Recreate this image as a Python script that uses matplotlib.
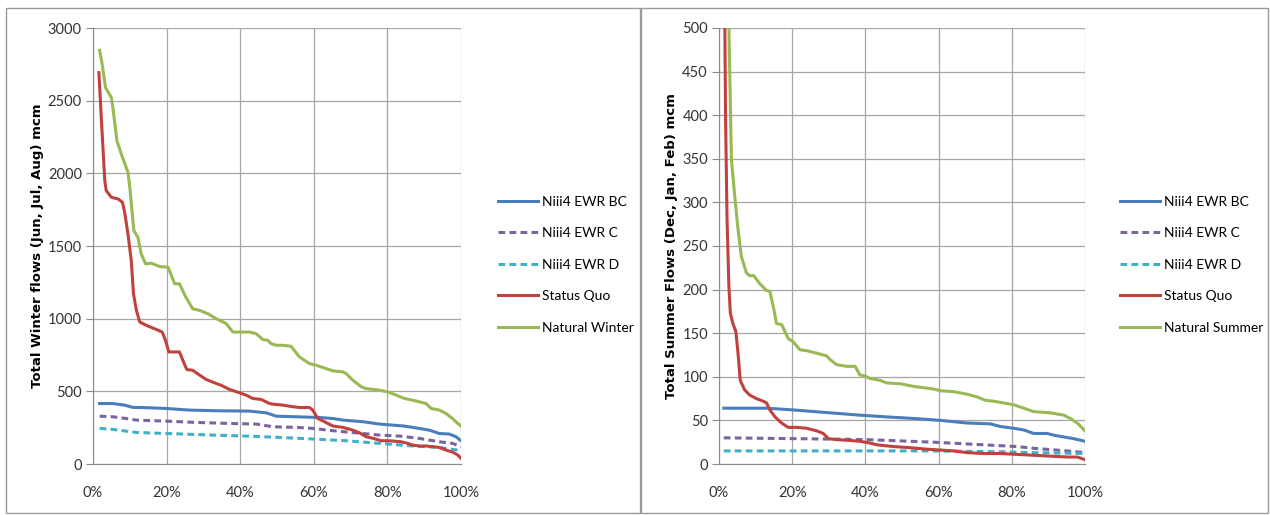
import matplotlib.pyplot as plt
from matplotlib.patches import Rectangle
from matplotlib.ticker import PercentFormatter

# ---- winter (left panel) ----
w_nat_x = [1.8, 2.5, 3.4, 5.0, 5.4, 6.5, 7.7, 9.5, 10.0, 11.1, 12.2, 13.1, 14.3, 15.8, 18.1,
           20.4, 22.2, 23.5, 25.2, 27.1, 29.0, 31.2, 33.5, 36.2, 38.0, 39.8, 42.5, 44.3, 46.2,
           47.5, 48.4, 49.8, 51.6, 53.8, 56.1, 58.8, 60.6, 63.3, 65.2, 67.9, 68.8, 70.6, 72.9,
           74.2, 77.8, 80.1, 82.4, 84.6, 86.9, 90.5, 91.9, 94.1, 95.9, 97.7, 99.1, 100.0]
w_nat_y = [2846, 2750, 2590, 2521, 2453, 2224, 2132, 2007, 1904, 1606, 1560, 1446, 1377, 1382, 1359,
           1354, 1240, 1240, 1149, 1068, 1057, 1034, 1000, 966, 908, 908, 908, 897, 856,
           851, 828, 817, 817, 810, 737, 691, 680, 657, 641, 634, 622, 577, 531,
           519, 508, 496, 474, 451, 439, 416, 382, 371, 348, 313, 279, 261]

w_sq_x = [1.6, 2.3, 3.2, 3.6, 5.0, 6.8, 8.0, 8.6, 9.5, 10.4, 11.0, 11.8, 12.7, 14.5, 16.7, 18.8,
          19.7, 20.6, 22.6, 23.5, 24.6, 25.5, 27.1, 29.0, 30.8, 33.5, 34.8, 37.1, 39.8, 41.6,
          43.4, 45.7, 48.0, 48.9, 51.6, 54.3, 56.1, 58.8, 59.7, 61.1, 62.9, 65.2, 67.9, 70.6,
          72.4, 74.2, 76.5, 78.3, 80.5, 83.7, 85.5, 86.9, 88.7, 90.5, 92.3, 94.1, 95.9, 97.7,
          99.1, 100.0]
w_sq_y = [2693, 2361, 1949, 1881, 1835, 1824, 1801, 1732, 1583, 1400, 1171, 1057, 977, 954, 931, 908,
          851, 771, 771, 771, 702, 650, 645, 611, 581, 554, 542, 513, 490, 474,
          451, 444, 416, 412, 405, 394, 389, 389, 371, 313, 291, 261, 252, 233,
          215, 188, 174, 160, 160, 153, 142, 130, 124, 124, 119, 114, 96, 82,
          62, 39]

w_bc_x = [1.8, 5.4, 8.6, 10.9, 13.1, 19.9, 26.2, 34.4, 42.5, 47.1, 49.8, 55.2, 61.5, 65.2, 67.9,
          73.3, 77.8, 84.6, 86.9, 91.4, 94.1, 96.8, 98.6, 100.0]
w_bc_y = [416, 416, 405, 389, 389, 382, 371, 366, 364, 352, 329, 325, 320, 313, 302,
          291, 275, 261, 252, 233, 210, 206, 188, 160]

w_c_x = [1.8, 5.4, 9.0, 11.8, 19.9, 28.1, 37.1, 44.3, 48.9, 55.2, 59.7, 65.2, 73.3, 77.8, 83.3,
         88.7, 94.1, 97.7, 100.0]
w_c_y = [329, 325, 313, 302, 295, 286, 279, 275, 256, 252, 245, 229, 210, 199, 192,
         176, 153, 142, 119]

w_d_x = [1.8, 5.4, 11.8, 19.9, 32.6, 41.6, 50.7, 59.7, 68.8, 77.8, 86.9, 94.1, 100.0]
w_d_y = [245, 238, 217, 210, 199, 192, 183, 172, 160, 142, 124, 114, 92]

# ---- summer (right panel) ----
s_nat_x = [1.4, 2.7, 3.4, 4.3, 5.2, 6.1, 7.5, 8.4, 9.5, 11.1, 13.0, 13.9, 15.0, 15.7, 17.1, 18.9,
           20.3, 22.1, 23.9, 25.8, 27.6, 29.4, 30.3, 32.1, 34.9, 37.2, 38.5, 39.9, 41.3, 44.0,
           45.8, 49.5, 53.2, 56.8, 58.6, 60.5, 64.1, 67.8, 70.5, 72.8, 75.1, 77.8, 80.5, 83.3,
           86.0, 89.7, 91.5, 94.2, 96.1, 97.9, 99.3, 100.0]
s_nat_y = [900, 500, 349, 307, 269, 238, 219, 216, 216, 207, 199, 198, 177, 161, 160, 144,
           140, 131, 130, 128, 126, 124, 120, 114, 112, 112, 102, 101, 98, 96,
           93, 92, 89, 87, 86, 84, 83, 80, 77, 73, 72, 70, 68, 64,
           60, 59, 58, 56, 52, 47, 41, 38]

s_sq_x = [1.3, 1.6, 1.8, 2.2, 2.7, 3.1, 3.8, 4.6, 5.2, 5.8, 7.0, 8.4, 10.2, 12.1, 13.0, 13.9,
          15.3, 17.1, 18.9, 21.2, 23.9, 26.7, 28.5, 29.9, 32.1, 35.8, 38.5, 41.3, 43.1, 47.7,
          51.3, 56.8, 60.5, 64.1, 67.8, 72.3, 76.9, 81.5, 86.0, 90.6, 95.2, 97.9, 100.0]
s_sq_y = [700, 500, 395, 280, 204, 173, 161, 152, 127, 96, 85, 79, 75, 72, 70, 62,
          54, 47, 42, 42, 41, 38, 35, 29, 28, 27, 26, 24, 22, 20,
          19, 17, 16, 15, 13, 12, 12, 11, 10, 9, 8, 8, 5]

s_bc_x = [1.3, 13.0, 20.3, 29.4, 38.5, 45.8, 54.1, 60.5, 67.8, 74.2, 76.9, 80.5, 83.3, 86.0,
          89.7, 91.5, 94.2, 97.0, 100.0]
s_bc_y = [64, 64, 62, 59, 56, 54, 52, 50, 47, 46, 43, 41, 39, 35,
          35, 33, 31, 29, 26]

s_c_x = [1.3, 22.1, 40.4, 58.6, 67.8, 76.9, 81.5, 86.0, 95.2, 100.0]
s_c_y = [30, 29, 28, 25, 23, 21, 20, 18, 15, 13]

s_d_x = [1.3, 58.6, 76.9, 86.0, 100.0]
s_d_y = [15, 15, 14, 13, 12]

labels = ["Niii4 EWR BC", "Niii4 EWR C", "Niii4 EWR D", "Status Quo"]

BLUE = "#4a7ebb"
PURPLE = "#7a64a0"
CYAN = "#3fb0c8"
RED = "#c0413e"
GREEN = "#98b954"

plt.rcParams['font.family'] = ['Lato', 'DejaVu Sans']

fig = plt.figure(figsize=(12.7, 5.15), dpi=100)

# panel frames
for x0, w in [(6 / 1270, 634 / 1270), (641 / 1270, 627 / 1270)]:
    fig.patches.append(Rectangle((x0, 2 / 515), w, 505 / 515, transform=fig.transFigure,
                                 fill=False, edgecolor="#9a9a9a", linewidth=1.0))


def draw_panel(ax, series, nat_label, ymax, ystep, ylabel, legend_x):
    for (xs, ys), lab, col, ls in zip(series, labels + [nat_label],
                                      [BLUE, PURPLE, CYAN, RED, GREEN],
                                      ['-', '--', '--', '-', '-']):
        line, = ax.plot(xs, ys, color=col, lw=2.2, ls=ls, label=lab)
        if ls == '--':
            line.set_dashes((2.2, 1.4))
    ax.set_xlim(0, 100)
    ax.set_ylim(0, ymax)
    ax.set_xticks(range(0, 101, 20))
    ax.set_yticks(range(0, ymax + 1, ystep))
    ax.xaxis.set_major_formatter(PercentFormatter(decimals=0))
    ax.grid(True, color="#a6a6a6", lw=0.9)
    ax.set_axisbelow(True)
    for s in ['top', 'right']:
        ax.spines[s].set_visible(False)
    for s in ['left', 'bottom']:
        ax.spines[s].set_color("#8a8a8a")
    ax.tick_params(axis='y', length=5, color="#8a8a8a", labelsize=10.5, labelcolor="#333333", pad=3)
    ax.tick_params(axis='x', length=0, labelsize=10.5, labelcolor="#333333", pad=16)
    ax.set_ylabel(ylabel, fontsize=9.5, fontweight='bold', family=['DejaVu Sans'], labelpad=3)
    fig.legend(handles=ax.get_lines(), loc='center left', bbox_to_anchor=(legend_x, 0.486),
               frameon=False, fontsize=10, handlelength=2.9, labelspacing=1.4,
               handletextpad=0.3, borderaxespad=0, borderpad=0)


ax1 = fig.add_axes([93 / 1270, 1 - 464 / 515, 368 / 1270, 436 / 515])
draw_panel(ax1, [(w_bc_x, w_bc_y), (w_c_x, w_c_y), (w_d_x, w_d_y), (w_sq_x, w_sq_y),
                 (w_nat_x, w_nat_y)],
           "Natural Winter", 3000, 500, "Total Winter flows (Jun, Jul, Aug) mcm", 498 / 1270)

ax2 = fig.add_axes([719 / 1270, 1 - 464 / 515, 366 / 1270, 436 / 515])
draw_panel(ax2, [(s_bc_x, s_bc_y), (s_c_x, s_c_y), (s_d_x, s_d_y), (s_sq_x, s_sq_y),
                 (s_nat_x, s_nat_y)],
           "Natural Summer", 500, 50, "Total Summer Flows (Dec, Jan, Feb) mcm", 1120 / 1270)

fig.savefig("out.png", dpi=100)
